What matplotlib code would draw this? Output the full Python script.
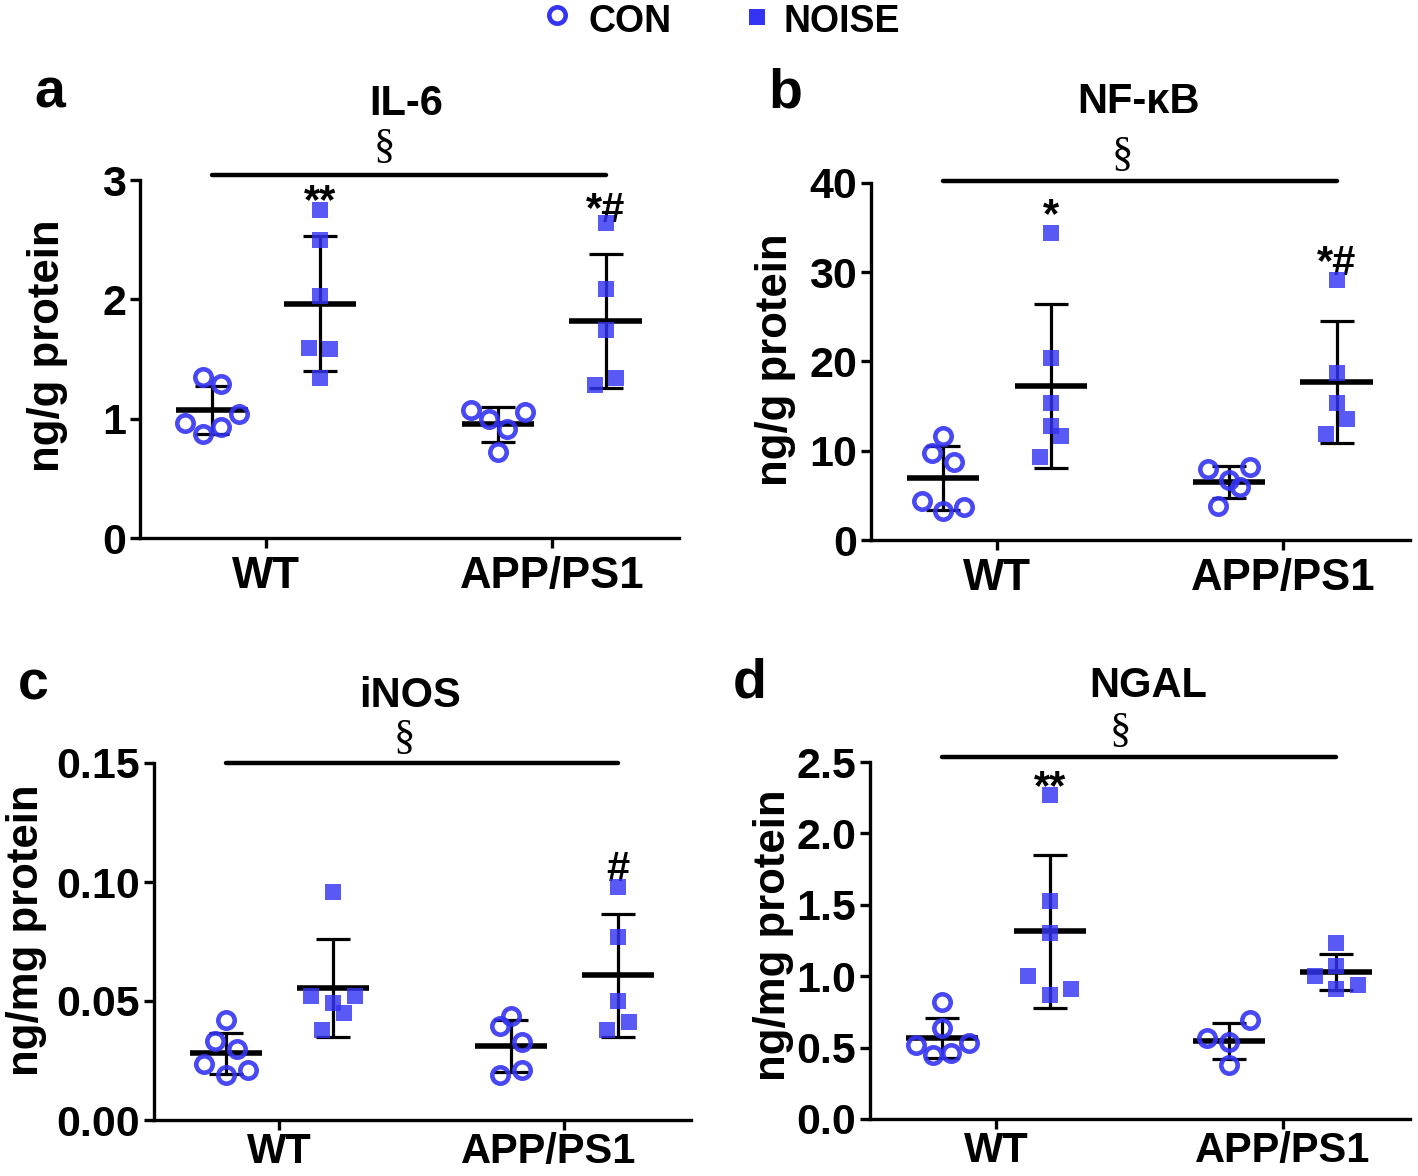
import numpy as np
import matplotlib
matplotlib.use("Agg")
import matplotlib.pyplot as plt
import matplotlib.transforms as mtransforms
from matplotlib.lines import Line2D

plt.rcParams['font.family'] = ['Liberation Sans', 'DejaVu Sans']
plt.rcParams['font.weight'] = 'bold'

# ---------------- data ----------------
groups = ["WT", "APP/PS1"]
series = ["CON", "NOISE"]

il6_con_wt = [1.35, 1.29, 0.96, 0.87, 0.93, 1.04]
il6_noise_wt = [2.75, 2.50, 2.03, 1.59, 1.58, 1.34]
il6_con_app = [1.07, 1.00, 1.06, 0.91, 0.72]
il6_noise_app = [2.64, 2.09, 1.74, 1.28, 1.34]

nfkb_con_wt = [11.7, 9.7, 8.7, 4.4, 3.2, 3.7]
nfkb_noise_wt = [34.4, 20.4, 15.3, 12.8, 11.6, 9.3]
nfkb_con_app = [7.9, 8.2, 6.7, 5.9, 3.8]
nfkb_noise_app = [29.1, 18.7, 15.4, 13.6, 11.9]

inos_con_wt = [0.042, 0.033, 0.030, 0.0235, 0.019, 0.021]
inos_noise_wt = [0.096, 0.052, 0.052, 0.049, 0.045, 0.038]
inos_con_app = [0.0437, 0.0395, 0.0328, 0.019, 0.021]
inos_noise_app = [0.098, 0.077, 0.050, 0.041, 0.038]

ngal_con_wt = [0.82, 0.64, 0.52, 0.45, 0.46, 0.53]
ngal_noise_wt = [2.27, 1.53, 1.30, 1.00, 0.87, 0.91]
ngal_con_app = [0.69, 0.57, 0.54, 0.38]
ngal_noise_app = [1.23, 1.07, 1.00, 0.91, 0.94]

titles = ["IL-6", "NF-κB", "iNOS", "NGAL"]
panel_letters = ["a", "b", "c", "d"]
ylabels = ["ng/g protein", "ng/g protein", "ng/mg protein", "ng/mg protein"]
yticks_a = [0, 1, 2, 3]
yticks_b = [0, 10, 20, 30, 40]
yticks_c = [0.00, 0.05, 0.10, 0.15]
yticks_d = [0.0, 0.5, 1.0, 1.5, 2.0, 2.5]
ytick_fmt = ["{:.0f}", "{:.0f}", "{:.2f}", "{:.1f}"]
marks_a = ["**", "*#"]
marks_b = ["*", "*#"]
marks_c = ["", "#"]
marks_d = ["**", ""]

# ---------------- layout / style (positions, not data) ----------------
W, H = 1418, 1176
fig = plt.figure(figsize=(W / 100, H / 100), dpi=100)

def px_rect(l, r, top, bot):
    return [l / W, 1 - bot / H, (r - l) / W, (bot - top) / H]

rects = [px_rect(140, 679, 180, 538), px_rect(871, 1410, 183, 540),
         px_rect(154, 691, 763, 1120), px_rect(870, 1410, 762, 1119)]

U = 0.062
jit = [
    [[-0.5, 0.5, -1.5, -0.5, 0.5, 1.5], [0, 0, 0, -0.6, 0.6, 0],
     [-1.5, -0.5, 1.5, 0.5, 0], [0, 0, 0, -0.6, 0.6]],
    [[0, -0.6, 0.6, -1.2, 0, 1.2], [0, 0, 0, 0, 0.6, -0.6],
     [-1.2, 1.2, 0, 0.6, -0.6], [0, 0, 0, 0.6, -0.6]],
    [[0, -0.62, 0.62, -1.25, 0, 1.25], [0, -1.25, 1.25, 0, 0.62, -0.62],
     [0, -0.62, 0.62, -0.62, 0.62], [0, 0, 0, 0.62, -0.6]],
    [[0, 0, -1.5, -0.5, 0.5, 1.5], [0, 0, 0, -1.25, 0, 1.2],
     [1.2, -1.2, 0, 0], [0, 0, -1.2, 0, 1.2]],
]
panel_data = [
    [il6_con_wt, il6_noise_wt, il6_con_app, il6_noise_app],
    [nfkb_con_wt, nfkb_noise_wt, nfkb_con_app, nfkb_noise_app],
    [inos_con_wt, inos_noise_wt, inos_con_app, inos_noise_app],
    [ngal_con_wt, ngal_noise_wt, ngal_con_app, ngal_noise_app],
]
yticks_all = [yticks_a, yticks_b, yticks_c, yticks_d]
marks_all = [marks_a, marks_b, marks_c, marks_d]
bracket_y = [3.04, 40.26, 0.1499, 2.533]
sect_y = [3.11, 40.85, 0.1520, 2.575]
sect_x = [0.415, 0.44, 0.44, 0.435]
mark_top = [[2.98, 2.91], [38.5, 33.2], [None, 0.1135], [2.46, None]]
app_label_shift_px = [0, 0, -16, 0]
xlab_size = [31.5, 31.5, 30, 30]
xlab_pad = [6, 6, 1.5, 1.5]

BLUE = '#3434F4'
OFF = 0.188
xpos = [-OFF, OFF, 1 - OFF, 1 + OFF]
is_noise = [False, True, False, True]

for k in range(4):
    ax = fig.add_axes(rects[k])
    yt = yticks_all[k]
    for gi, vals in enumerate(panel_data[k]):
        vals = np.asarray(vals, dtype=float)
        xs = xpos[gi] + U * np.asarray(jit[k][gi])
        m = vals.mean()
        sd = vals.std(ddof=1)
        ax.errorbar([xpos[gi]], [m], yerr=[sd], fmt='none', ecolor='black',
                    elinewidth=2.3, capsize=12.5, capthick=2.3, zorder=3)
        ax.hlines(m, xpos[gi] - 0.126, xpos[gi] + 0.126, colors='black',
                  linewidth=4.0, zorder=3)
        if is_noise[gi]:
            ax.plot(xs, vals, linestyle='none', marker='s', markersize=11.2,
                    markerfacecolor=BLUE, markeredgewidth=0, alpha=0.82, zorder=4)
        else:
            ax.plot(xs, vals, linestyle='none', marker='o', markersize=11.8,
                    markerfacecolor='none', markeredgecolor=BLUE,
                    markeredgewidth=3.3, alpha=0.9, zorder=4)
    ax.set_xlim(-0.44, 1.445)
    ax.set_ylim(yt[0], yt[-1])
    ax.set_xticks([0, 1])
    ax.set_xticklabels(groups, fontsize=xlab_size[k], fontweight='bold')
    ax.set_yticks(yt)
    ax.set_yticklabels([ytick_fmt[k].format(v) for v in yt], fontsize=31,
                       fontweight='bold')
    for s in ['top', 'right']:
        ax.spines[s].set_visible(False)
    for s in ['left', 'bottom']:
        ax.spines[s].set_linewidth(2.4)
    ax.tick_params(axis='both', width=2.4, length=7, pad=3)
    ax.tick_params(axis='x', pad=xlab_pad[k])
    if app_label_shift_px[k]:
        lab = ax.get_xticklabels()[1]
        lab.set_transform(lab.get_transform() + mtransforms.ScaledTranslation(
            app_label_shift_px[k] / 100, 0, fig.dpi_scale_trans))
    # significance bracket
    ax.plot([xpos[0], xpos[3]], [bracket_y[k]] * 2, color='black', lw=3.2,
            solid_capstyle='round', clip_on=False, zorder=5)
    ax.text(sect_x[k], sect_y[k], "§", family=['Liberation Serif', 'DejaVu Serif'],
            fontweight='normal', fontsize=31, ha='center', va='bottom', clip_on=False)
    for j, (lab, top) in enumerate(zip(marks_all[k], mark_top[k])):
        if lab:
            ax.text(xpos[2 * j + 1], top, lab, fontsize=30, fontweight='bold',
                    ha='center', va='top', clip_on=False)

letter_xy = [(50, 107), (785, 107), (33, 700), (750, 697)]
title_xy = [(406, 115), (1139, 113), (410, 707), (1148, 697)]
ylab_xy = [(48, 346), (775, 360), (27, 930), (773, 935)]
for k in range(4):
    lx, ly = letter_xy[k]
    fig.text(lx / W, 1 - ly / H, panel_letters[k], fontsize=40, fontweight='bold',
             ha='center', va='baseline')
    tx, ty = title_xy[k]
    fig.text(tx / W, 1 - ty / H, titles[k], fontsize=30, fontweight='bold',
             ha='center', va='baseline')
    yx, yy = ylab_xy[k]
    fig.text(yx / W, 1 - yy / H, ylabels[k], fontsize=31.5, fontweight='bold',
             ha='center', va='center', rotation=90)

# legend at top
fig.add_artist(Line2D([557 / W], [1 - 15 / H], marker='o', markersize=11.8,
                      markerfacecolor='none', markeredgecolor=BLUE,
                      markeredgewidth=3.3, linestyle='none'))
fig.text(588 / W, 1 - 32 / H, series[0], fontsize=27, fontweight='bold',
         ha='left', va='baseline')
fig.add_artist(Line2D([757 / W], [1 - 17 / H], marker='s', markersize=11.2,
                      markerfacecolor=BLUE, markeredgewidth=0, linestyle='none'))
fig.text(783 / W, 1 - 32 / H, series[1], fontsize=27, fontweight='bold',
         ha='left', va='baseline')

fig.savefig("out.png", dpi=100)
